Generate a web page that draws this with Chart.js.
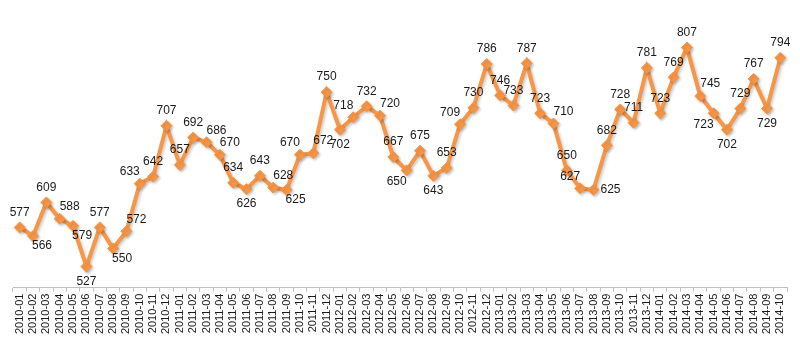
<!DOCTYPE html>
<html>
<head>
<meta charset="utf-8">
<script src="https://cdn.jsdelivr.net/npm/chart.js@4/dist/chart.umd.min.js"></script>
<style>
  html, body { margin: 0; padding: 0; background: #fff; }
  #wrap { width: 800px; height: 344px; }
</style>
</head>
<body>
<div id="wrap"><canvas id="chart" width="800" height="344"></canvas></div>
<script>
const months = [];
for (let y = 2010; y <= 2014; y++) {
    for (let m = 1; m <= 12; m++) {
        if (y === 2014 && m > 10) break;
        months.push(`${y}-${String(m).padStart(2, '0')}`);
    }
}

const values = [
    577, 566, 609, 588, 579, 527, 577, 550, 572, 633, 642, 707,
    657, 692, 686, 670, 634, 626, 643, 628, 625, 670, 672, 750,
    702, 718, 732, 720, 667, 650, 675, 643, 653, 709, 730, 786,
    746, 733, 787, 723, 710, 650, 627, 625, 682, 728, 711, 781,
    723, 769, 807, 745, 723, 702, 729, 767, 729, 794
];

// where each value label sits around its point
const labelSide = [
    'n', 'se', 'n', 'ne', 'se', 's', 'n', 'se', 'ne', 'nw', 'n', 'n',
    'n', 'n', 'ne', 'ne', 'n', 's', 'n', 'ne', 'se', 'nw', 'ne', 'n',
    's', 'nw', 'n', 'ne', 'n', 'sw', 'n', 's', 'n', 'nw', 'n', 'n',
    'n', 'n', 'n', 'n', 'ne', 'n', 'nw', 'e', 'n', 'n', 'n', 'n',
    'n', 'n', 'n', 'ne', 'sw', 's', 'n', 'n', 's', 'n'
];

const ORANGE = '#F79646';
const FONT = '"Liberation Sans", Arial, sans-serif';

const sideOffset = {
    n: [0, -15], s: [0, 15], e: [17, 0], w: [-17, 0],
    ne: [10, -12], nw: [-10, -12], se: [9, 10], sw: [-10, 11]
};

const shadowPlugin = {
    id: 'lineShadow',
    beforeDatasetsDraw(chart) {
        const ctx = chart.ctx;
        ctx.save();
        ctx.shadowColor = 'rgba(0,0,0,0.22)';
        ctx.shadowBlur = 3;
        ctx.shadowOffsetX = 1.5;
        ctx.shadowOffsetY = 1.5;
    },
    afterDatasetsDraw(chart) {
        chart.ctx.restore();
    }
};

const valueLabels = {
    id: 'valueLabels',
    afterDraw(chart) {
        const ctx = chart.ctx;
        const meta = chart.getDatasetMeta(0);
        ctx.save();
        ctx.font = `12px ${FONT}`;
        ctx.fillStyle = '#1a1a1a';
        ctx.textAlign = 'center';
        ctx.textBaseline = 'middle';
        meta.data.forEach((pt, i) => {
            const [dx, dy] = sideOffset[labelSide[i]] || [0, -15];
            ctx.fillText(String(values[i]), pt.x + dx, pt.y + dy);
        });
        ctx.restore();
    }
};

new Chart(document.getElementById('chart'), {
    type: 'line',
    data: {
        labels: months,
        datasets: [{
            data: values,
            borderColor: ORANGE,
            backgroundColor: ORANGE,
            borderWidth: 4,
            pointStyle: 'rectRot',
            pointRadius: 5.5,
            pointBackgroundColor: ORANGE,
            pointBorderColor: ORANGE,
            pointBorderWidth: 1,
            tension: 0,
            fill: false,
        }],
    },
    options: {
        responsive: false,
        maintainAspectRatio: false,
        animation: false,
        layout: { padding: { left: 13, right: 13, top: 14, bottom: 8 } },
        plugins: { legend: { display: false }, tooltip: { enabled: false } },
        scales: {
            x: {
                offset: true,
                grid: {
                    offset: true,
                    drawOnChartArea: false,
                    drawTicks: true,
                    tickLength: 4,
                    color: '#bfbfbf',
                },
                border: { display: true, color: '#bfbfbf', width: 1 },
                ticks: {
                    autoSkip: false,
                    maxRotation: 90,
                    minRotation: 90,
                    padding: 2,
                    color: '#1a1a1a',
                    font: { family: FONT, size: 11 },
                },
            },
            y: {
                display: false,
                min: 500,
                max: 850,
            },
        },
    },
    plugins: [shadowPlugin, valueLabels],
});
</script>
</body>
</html>
